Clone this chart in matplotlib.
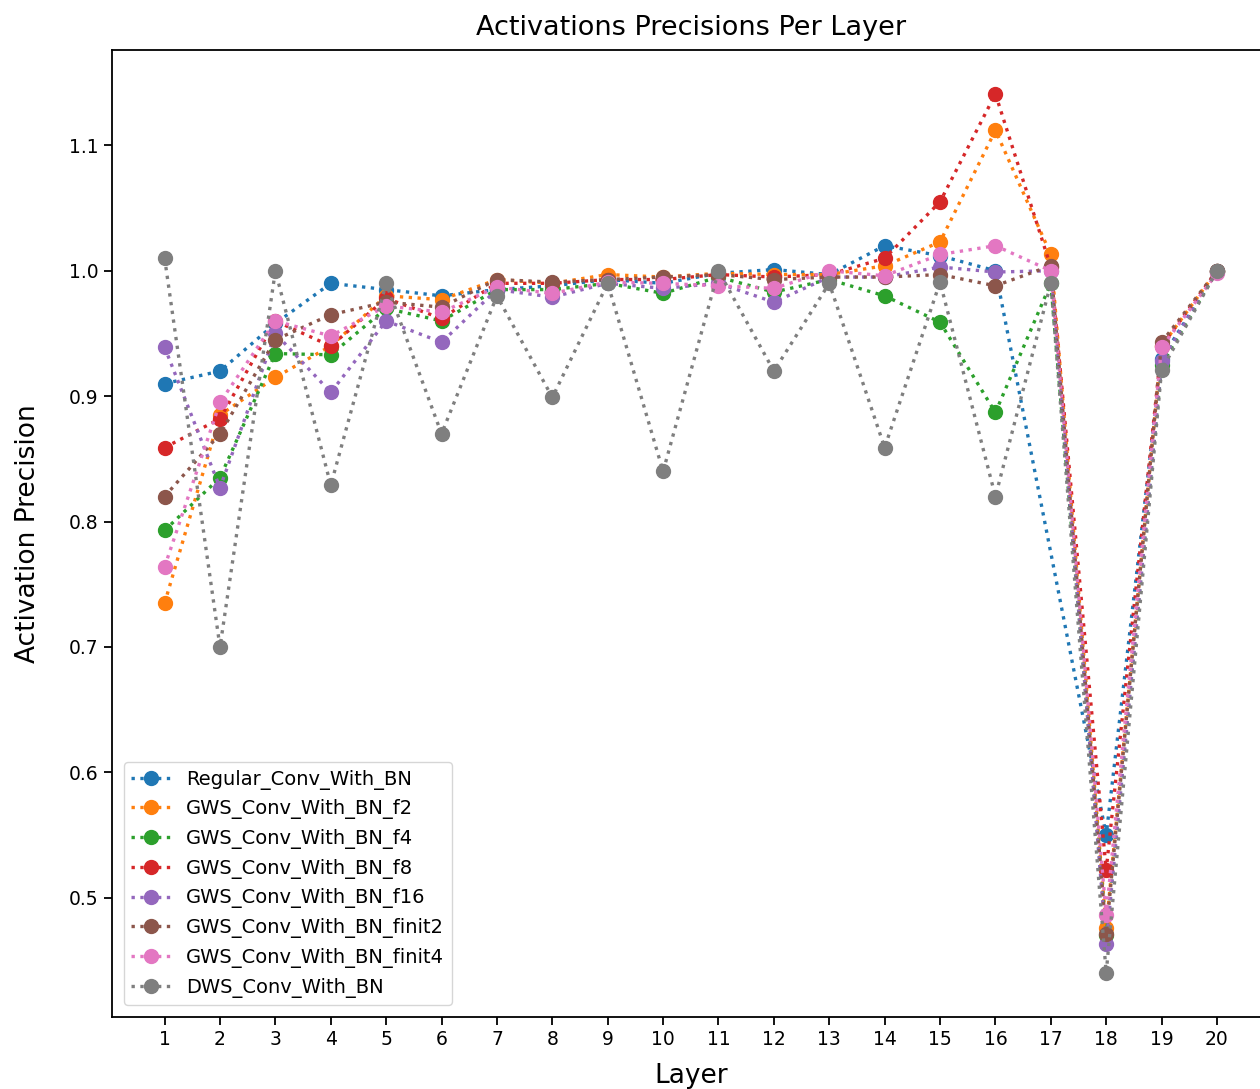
import matplotlib
matplotlib.use("Agg")
import matplotlib.pyplot as plt

layers = list(range(1, 21))
# the regular conv run has no value logged for layer 17
layers_regular = [l for l in layers if l != 17]

regular_bn = [0.910, 0.920, 0.958, 0.990, 0.985, 0.980, 0.985, 0.988, 0.993, 0.990,
              0.998, 1.001, 0.997, 1.020, 1.012, 1.000, 0.550, 0.930, 1.000]
gws_f2 = [0.735, 0.885, 0.915, 0.940, 0.980, 0.977, 0.993, 0.990, 0.997, 0.995,
          0.998, 0.997, 0.997, 1.004, 1.023, 1.112, 1.013, 0.476, 0.940, 1.000]
gws_f4 = [0.793, 0.835, 0.934, 0.933, 0.970, 0.960, 0.985, 0.985, 0.990, 0.982,
          0.995, 0.983, 0.993, 0.980, 0.959, 0.887, 0.990, 0.470, 0.925, 1.000]
gws_f8 = [0.859, 0.882, 0.960, 0.940, 0.978, 0.962, 0.990, 0.990, 0.993, 0.993,
          0.997, 0.995, 0.997, 1.010, 1.055, 1.141, 1.003, 0.522, 0.940, 1.000]
gws_f16 = [0.939, 0.827, 0.950, 0.903, 0.960, 0.943, 0.985, 0.979, 0.990, 0.986,
           0.990, 0.975, 0.995, 0.995, 1.003, 0.999, 1.000, 0.463, 0.928, 1.000]
gws_finit2 = [0.820, 0.870, 0.945, 0.965, 0.975, 0.971, 0.993, 0.991, 0.993, 0.995,
              0.997, 0.993, 0.995, 0.995, 0.997, 0.988, 1.004, 0.471, 0.943, 1.000]
gws_finit4 = [0.764, 0.895, 0.960, 0.948, 0.972, 0.967, 0.987, 0.982, 0.991, 0.990,
              0.988, 0.986, 1.000, 0.996, 1.013, 1.020, 1.000, 0.486, 0.939, 0.998]
dws_bn = [1.010, 0.700, 1.000, 0.829, 0.990, 0.870, 0.980, 0.899, 0.990, 0.840,
          1.000, 0.920, 0.990, 0.859, 0.991, 0.820, 0.990, 0.440, 0.921, 1.000]

runs = [
    ("Regular_Conv_With_BN", layers_regular, regular_bn),
    ("GWS_Conv_With_BN_f2", layers, gws_f2),
    ("GWS_Conv_With_BN_f4", layers, gws_f4),
    ("GWS_Conv_With_BN_f8", layers, gws_f8),
    ("GWS_Conv_With_BN_f16", layers, gws_f16),
    ("GWS_Conv_With_BN_finit2", layers, gws_finit2),
    ("GWS_Conv_With_BN_finit4", layers, gws_finit4),
    ("DWS_Conv_With_BN", layers, dws_bn),
]

fig = plt.figure(figsize=(12.6, 10.89), dpi=100)
# axes runs slightly past the right edge of the figure
ax = fig.add_axes([112 / 1260, 72 / 1089, 1157.6 / 1260, 967 / 1089])

for name, xs, ys in runs:
    ax.plot(xs, ys, "o:", label=name, markersize=10, linewidth=2.4)

ax.set_xticks(layers)
ax.tick_params(labelsize=13.5, length=6, width=1.3)
for s in ax.spines.values():
    s.set_linewidth(1.3)

ax.set_title("Activations Precisions Per Layer", fontsize=19.5, pad=10.5)
ax.set_xlabel("Layer", fontsize=19, labelpad=10)
ax.set_ylabel("Activation Precision", fontsize=19, labelpad=20)
ax.legend(loc="lower left", fontsize=14, borderaxespad=0.6)

fig.savefig("out.png", dpi=100)
